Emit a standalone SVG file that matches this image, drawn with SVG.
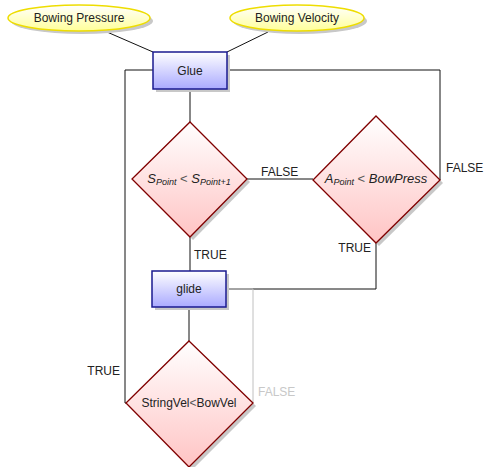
<svg xmlns="http://www.w3.org/2000/svg" width="486" height="467" viewBox="0 0 486 467">
<defs>
<linearGradient id="gy" x1="0" y1="0" x2="0" y2="1"><stop offset="0" stop-color="#ffffff"/><stop offset="1" stop-color="#ffff99"/></linearGradient>
<linearGradient id="gb" x1="0" y1="0" x2="0" y2="1"><stop offset="0" stop-color="#ffffff"/><stop offset="1" stop-color="#aaaaff"/></linearGradient>
<linearGradient id="gr" x1="0" y1="0" x2="0" y2="1"><stop offset="0" stop-color="#ffffff"/><stop offset="1" stop-color="#ffc4c4"/></linearGradient>
</defs>
<style>
text{font-family:"Liberation Sans",Arial,sans-serif;font-size:12px;fill:#222}
.sh{fill:#c8c8c8}
.ell{fill:url(#gy);stroke:#eedd00;stroke-width:1.5}
.box{fill:url(#gb);stroke:#1a1a90;stroke-width:1.5}
.dia{fill:url(#gr);stroke:#800000;stroke-width:1.3}
.c{fill:none;stroke:#111;stroke-width:1}
.g{fill:none;stroke:#c0c0c0;stroke-width:1}
.glbl{fill:#c8c8c8}
.it{font-style:italic}
</style>
<g id="connectors">
<line class="c" x1="107" y1="32" x2="153" y2="52"/>
<line class="c" x1="268" y1="32" x2="227" y2="52"/>
<polyline class="c" points="153,70 125,70 125,403 126,403"/>
<polyline class="c" points="227,70 440,70 440,180"/>
<line class="c" x1="190" y1="89" x2="190" y2="122"/>
<line class="c" x1="247" y1="179" x2="313" y2="179"/>
<line class="c" x1="190" y1="237" x2="190" y2="271"/>
<polyline class="c" points="376,243 376,289 226,289"/>
<line class="c" x1="189" y1="307" x2="189" y2="341"/>
<polyline class="g" points="253,403 253,289 226,289"/>
<text x="261" y="176">FALSE</text>
<text x="446" y="172">FALSE</text>
<text x="371" y="252" text-anchor="end">TRUE</text>
<text x="194" y="259">TRUE</text>
<text x="120" y="375" text-anchor="end">TRUE</text>
<text class="glbl" x="258" y="396">FALSE</text>
</g>
<g id="bowing-pressure">
<ellipse class="sh" cx="82" cy="21" rx="71" ry="13"/>
<ellipse class="ell" cx="79" cy="18" rx="71" ry="13"/>
<text x="79" y="22" text-anchor="middle">Bowing Pressure</text>
</g>
<g id="bowing-velocity">
<ellipse class="sh" cx="300" cy="21" rx="67" ry="13"/>
<ellipse class="ell" cx="297" cy="18" rx="67" ry="13"/>
<text x="297" y="22" text-anchor="middle">Bowing Velocity</text>
</g>
<g id="glue">
<rect class="sh" x="156" y="55" width="74" height="37"/>
<rect class="box" x="153" y="52" width="74" height="37"/>
<text x="190" y="75" text-anchor="middle">Glue</text>
</g>
<g id="cond1">
<polygon class="sh" points="193,125 250,182 193,240 135,182"/>
<polygon class="dia" points="190,122 247,179 190,237 132,179"/>
<text x="189" y="183" text-anchor="middle"><tspan class="it" font-size="13">S</tspan><tspan class="it" font-size="9" dy="2">Point</tspan><tspan font-size="13" dy="-2" fill="#555"> &lt; </tspan><tspan class="it" font-size="13">S</tspan><tspan class="it" font-size="9" dy="2">Point+1</tspan></text>
</g>
<g id="cond2">
<polygon class="sh" points="379,119 443,183 379,246 316,183"/>
<polygon class="dia" points="376,116 440,180 376,243 313,180"/>
<text x="376" y="183" text-anchor="middle"><tspan class="it" font-size="13">A</tspan><tspan class="it" font-size="9" dy="2">Point</tspan><tspan font-size="13" dy="-2" fill="#555"> &lt; </tspan><tspan class="it" font-size="13">BowPress</tspan></text>
</g>
<g id="glide">
<rect class="sh" x="155" y="274" width="74" height="36"/>
<rect class="box" x="152" y="271" width="74" height="36"/>
<text x="189" y="293" text-anchor="middle">glide</text>
</g>
<g id="cond3">
<polygon class="sh" points="192,344 256,406 192,470 129,406"/>
<polygon class="dia" points="189,341 253,403 189,467 126,403"/>
<text x="189" y="407" text-anchor="middle" font-size="12.5">StringVel<tspan fill="#555">&lt;</tspan>BowVel</text>
</g>
</svg>
